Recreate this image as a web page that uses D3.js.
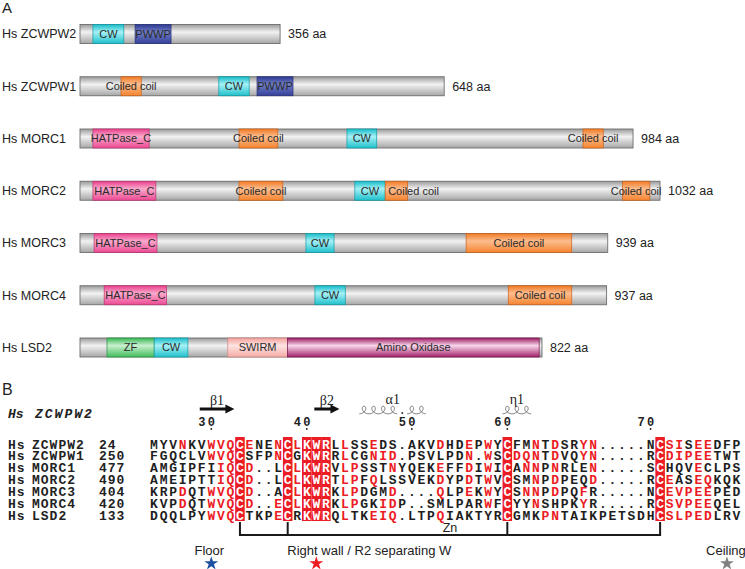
<!DOCTYPE html>
<html><head><meta charset="utf-8">
<script src="https://cdn.jsdelivr.net/npm/d3@7"></script>
<style>body{margin:0;background:#fff}svg{display:block}</style>
</head><body><svg id="c" width="745" height="569"></svg>
<script>
// ---------- Panel A data ----------
const proteins = ["Hs ZCWPW2","Hs ZCWPW1","Hs MORC1","Hs MORC2","Hs MORC3","Hs MORC4","Hs LSD2"];
const lengths  = [356, 648, 984, 1032, 939, 937, 822];
const domainProtein = [0,0, 1,1,1, 2,2,2,2, 3,3,3,3,3, 4,4,4, 5,5,5, 6,6,6,6];
const domainType = ["CW","PWWP",
  "Coiled coil","CW","PWWP",
  "HATPase_C","Coiled coil","CW","Coiled coil",
  "HATPase_C","Coiled coil","CW","Coiled coil","Coiled coil",
  "HATPase_C","CW","Coiled coil",
  "HATPase_C","CW","Coiled coil",
  "ZF","CW","SWIRM","Amino Oxidase"];
const domainStart = [23,98, 73,247,315, 23,283,475,895, 23,283,489,543,965, 25,402,687, 43,418,762, 48,132,263,369];
const domainEnd   = [78,162, 109,301,379, 123,352,528,931, 135,361,543,583,1014, 137,452,875, 154,472,875, 132,192,369,817];

// ---------- Panel B data ----------
const seqSpecies = ["Hs","Hs","Hs","Hs","Hs","Hs","Hs"];
const seqNames  = ["ZCWPW2","ZCWPW1","MORC1","MORC2","MORC3","MORC4","LSD2"];
const seqStarts = [24, 250, 477, 490, 404, 420, 133];
const sequences = [
 "MYVNKVWVQCENENCLKWRLLSSEDS.AKVDHDEPWYCFMNTDSRYN.....NCSISEEDFP",
 "FGQCLVWVQCSFPNCGKWRRLCGNID.PSVLPDN.WSCDQNTDVQYN.....RCDIPEETWT",
 "AMGIPFIIQCD..LCLKWRVLPSSTNYQEKEFFDIWICANNPNRLEN.....SCHQVECLPS",
 "AMEIPTTIQCD..LCLKWRTLPFQLSSVEKDYPDTWVCSMNPDPEQD.....RCEASEQKQK",
 "KRPDQTWVQCD..ACLKWRKLPDGMD....QLPEKWYCSNNPDPQFR.....NCEVPEEPED",
 "KVPDQTWVQCD..ECLKWRKLPGKIDP..SMLPARWFCYYNSHPKYR.....RCSVPEEQEL",
 "DQQLPYWVQCTKPECRKWRQLTKEIQ.LTPQIAKTYRCGMKPNTAIKPETSDHCSLPEDLRV"
];
// columns (1-based) with similar residues (red letters)
const similarCols = [
 [4,7,8,9,11,14,16,21,24,31,34,36,41,43,46,47,55,56,58,59],
 [7,8,9,14,21,24,25,26,34,36,39,40,41,43,46,47,55,56,57,58,59],
 [8,9,11,16,21,22,26,31,34,36,40,41,43,47,58],
 [8,9,11,16,21,22,24,31,34,36,41,43,47,55,58,59],
 [4,7,8,9,11,16,21,22,26,31,34,36,40,41,43,46,55,56,57,58,59],
 [4,7,8,9,11,14,16,21,22,25,26,36,41,46,55,56,57,58,59],
 [7,8,9,14,21,24,25,26,31,42,43,55,56,57,58,59]
];
// strictly conserved columns (white on red)
const identicalCols = [10,15,17,18,19,38,54];
const strands = [{name:"β1", s:6, e:9},{name:"β2", s:18, e:20}];
const helices = [{name:"α1", segs:[[23,26],[28,29]], gaps:[27]},{name:"η1", segs:[[38,40]], gaps:[]}];
const zincCols = [10,15,38,54];
const siteLabels = ["Floor","Right wall / R2 separating W","Ceiling"];
const siteCols = [7,18,61];

// ---------- drawing ----------
const svg = d3.select("#c");
const defs = svg.append("defs");
const SANS = "'Liberation Sans', Arial, sans-serif";
const MONO = "'Liberation Mono', 'Courier New', monospace";
const SERIF = "'Liberation Serif', 'Times New Roman', serif";

const palette = {
  bar:["#9a9a9a","#f2f2f2","#a6a6a6","#6e6e6e"],
  "CW":["#17bcc9","#a6f1f5","#1fc0cc","#129aa4"],
  "PWWP":["#2e3a92","#707ec6","#34409a","#252f78"],
  "Coiled coil":["#f07a25","#fdbd8f","#f5842f","#c8621c"],
  "HATPase_C":["#e8408b","#faa9cc","#ec4a93","#bc3170"],
  "ZF":["#37b753","#c9f0cf","#40bd5b","#2b9142"],
  "SWIRM":["#f3a09b","#fde4e2","#f6aaa5","#c98480"],
  "Amino Oxidase":["#9c1b63","#f8d6ea","#a3226b","#7a144d"]
};
Object.entries(palette).forEach(([k,c],i)=>{
  const g = defs.append("linearGradient").attr("id","g"+i).attr("x1",0).attr("x2",0).attr("y1",0).attr("y2",1);
  g.append("stop").attr("offset","0%").attr("stop-color",c[0]);
  g.append("stop").attr("offset","40%").attr("stop-color",c[1]);
  g.append("stop").attr("offset","100%").attr("stop-color",c[2]);
  palette[k].id = "g"+i;
});

svg.append("text").attr("x",2).attr("y",13).attr("font-family",SANS).attr("font-size",15).attr("fill","#222").text("A");

const x = d3.scaleLinear().domain([0, 1032]).range([80, 660]);
const yA = d3.scalePoint().domain(d3.range(proteins.length)).range([34, 347.5]);
const barH = 19;

const gA = svg.append("g");
proteins.forEach((p,i)=>{
  const yc = yA(i);
  gA.append("text").attr("x",2).attr("y",yc).attr("dy","0.35em").attr("font-family",SANS).attr("font-size",12.5).attr("fill","#222").text(p);
  gA.append("rect").attr("x",x(0)).attr("y",yc-barH/2).attr("width",x(lengths[i])-x(0)).attr("height",barH)
    .attr("fill","url(#"+palette.bar.id+")").attr("stroke",palette.bar[3]).attr("stroke-width",0.9);
  gA.append("text").attr("x",x(lengths[i])+8).attr("y",yc).attr("dy","0.35em").attr("font-family",SANS).attr("font-size",12.5).attr("fill","#222").text(lengths[i]+" aa");
});
domainType.forEach((t,j)=>{
  const i = domainProtein[j], yc = yA(i), c = palette[t];
  gA.append("rect").attr("x",x(domainStart[j])).attr("y",yc-barH/2).attr("width",x(domainEnd[j])-x(domainStart[j])).attr("height",barH)
    .attr("fill","url(#"+c.id+")").attr("stroke",c[3]).attr("stroke-width",0.7);
});
domainType.forEach((t,j)=>{
  const i = domainProtein[j], yc = yA(i);
  const cxm = (x(domainStart[j])+x(domainEnd[j]))/2;
  const tx = gA.append("text").attr("x",cxm).attr("y",yc).attr("dy","0.36em").attr("text-anchor","middle")
    .attr("font-family",SANS).attr("font-size",11).attr("fill","#2a2a2a").text(t);
  const w = tx.node().getComputedTextLength();
  // avoid running over the previous domain of the same protein
  if (j>0 && domainProtein[j-1]===i && cxm - w/2 < x(domainEnd[j-1]) && domainEnd[j-1] >= domainStart[j]) {
    tx.attr("text-anchor","start").attr("x", x(domainStart[j])+3);
  }
});

// ---------- Panel B ----------
svg.append("text").attr("x",2).attr("y",395).attr("font-family",SANS).attr("font-size",16).attr("fill","#222").text("B");

const cx = d3.scaleLinear().domain([1, 62]).range([154, 736.5]);
const pitch = cx(2) - cx(1);
const ry = d3.scalePoint().domain(d3.range(sequences.length)).range([444, 515]);
const boxTop = 437, boxBot = 521;
const RED = "#ec1c24";

const gB = svg.append("g");
// header
gB.append("text").attr("x",8).attr("y",413).attr("dy","0.35em").attr("font-family",MONO).attr("font-style","italic").attr("font-weight","bold")
  .attr("font-size",13).attr("fill","#222").text(seqSpecies[0]);
gB.append("text").attr("x",35).attr("y",413).attr("dy","0.35em").attr("font-family",MONO).attr("font-style","italic").attr("font-weight","bold")
  .attr("font-size",13).attr("letter-spacing",2).attr("fill","#222").text(seqNames[0]);

// conserved boxes
identicalCols.forEach(c=>{
  gB.append("rect").attr("x",cx(c)-pitch/2).attr("y",boxTop).attr("width",pitch).attr("height",boxBot-boxTop).attr("fill",RED);
});

// sequences
sequences.forEach((s,i)=>{
  const yc = ry(i);
  const lab = [[8,seqSpecies[i]],[32,seqNames[i]],[99,String(seqStarts[i])]];
  lab.forEach(([lx,t])=>gB.append("text").attr("x",lx).attr("y",yc).attr("dy","0.35em").attr("font-family",MONO).attr("font-weight","bold")
     .attr("font-size",13).attr("letter-spacing",1).attr("fill","#222").text(t));
  const red = new Set(similarCols[i]);
  s.split("").forEach((ch,k)=>{
    const c = k+1;
    const fill = identicalCols.includes(c) ? "#fff" : (red.has(c) ? RED : "#1e1e1e");
    gB.append("text").attr("x",cx(c)).attr("y",yc).attr("dy","0.35em").attr("text-anchor","middle")
      .attr("font-family",MONO).attr("font-weight","bold").attr("font-size",13).attr("fill",fill).text(ch);
  });
});

// residue numbering of the first sequence
{
  let r = seqStarts[0];
  sequences[0].split("").forEach((ch,k)=>{
    if (ch === ".") return;
    if (r % 10 === 0) {
      const c = k+1, digits = String(r).split("");
      digits.forEach((d,di)=>{
        gB.append("text").attr("x",cx(c - (digits.length-1-di))).attr("y",422).attr("dy","0.35em").attr("text-anchor","middle")
          .attr("font-family",MONO).attr("font-weight","bold").attr("font-size",12).attr("fill","#222").text(d);
      });
      gB.append("circle").attr("cx",cx(c)).attr("cy",429).attr("r",0.9).attr("fill","#222");
    }
    r++;
  });
}

// strands
strands.forEach(st=>{
  const x0 = cx(st.s)-2, x1 = cx(st.e)+4, y = 409;
  gB.append("path").attr("d",`M${x0},${y-1.4}H${x1-9}V${y-4.5}L${x1},${y}L${x1-9},${y+4.5}V${y+1.4}H${x0}Z`).attr("fill","#111");
  gB.append("text").attr("x",(x0+x1)/2).attr("y",400).attr("dy","0.35em").attr("text-anchor","middle")
    .attr("font-family",SERIF).attr("font-size",14).attr("fill","#222").text(st.name);
});
// helices
const coilLine = d3.line().x(d=>d[0]).y(d=>d[1]);
helices.forEach(h=>{
  const y0 = 410, d = 3.8, rr = pitch/(2*Math.PI);
  h.segs.forEach(([s,e])=>{
    const n = e-s+1, xs = cx(s)-pitch/2, pts=[];
    for (let t=-Math.PI; t<=2*Math.PI*n-Math.PI+1e-6; t+=0.12) {
      pts.push([xs + rr*(t+Math.PI) - d*Math.sin(t), y0 - d*Math.cos(t)]);
    }
    gB.append("path").attr("d",coilLine(pts)).attr("fill","none").attr("stroke","#555").attr("stroke-width",0.8);
  });
  h.gaps.forEach(c=>gB.append("circle").attr("cx",cx(c)).attr("cy",y0+3).attr("r",1).attr("fill","#333"));
  const all = h.segs.flat();
  const mid = (cx(d3.min(all))+cx(d3.max(all)))/2;
  gB.append("text").attr("x",mid).attr("y",399).attr("dy","0.35em").attr("text-anchor","middle")
    .attr("font-family",SERIF).attr("font-size",14).attr("fill","#222").text(h.name);
});

// zinc bracket
const brY = 535;
gB.append("path").attr("d", zincCols.map(c=>`M${cx(c)},${boxBot+1}V${brY}`).join("") + `M${cx(zincCols[0])-1},${brY}H${cx(zincCols[zincCols.length-1])+1}`)
  .attr("fill","none").attr("stroke","#1a1a1a").attr("stroke-width",2);
gB.append("text").attr("x",(cx(zincCols[0])+cx(zincCols[zincCols.length-1]))/2).attr("y",528).attr("dy","0.35em").attr("text-anchor","middle")
  .attr("font-family",SANS).attr("font-size",12.5).attr("fill","#222").text("Zn");

// site annotations
const starColors = ["#1f4fa0", RED, "#808080"];
const labelShift = [-2, 53, -1];
siteLabels.forEach((t,i)=>{
  const sx = cx(siteCols[i]);
  gB.append("text").attr("x",sx+labelShift[i]).attr("y",550).attr("dy","0.35em").attr("text-anchor","middle")
    .attr("font-family",SANS).attr("font-size",13).attr("fill","#222").text(t);
  gB.append("path").attr("d",d3.symbol(d3.symbolStar,60)()).attr("transform",`translate(${sx},${563.5})`).attr("fill",starColors[i]);
});
</script></body></html>
